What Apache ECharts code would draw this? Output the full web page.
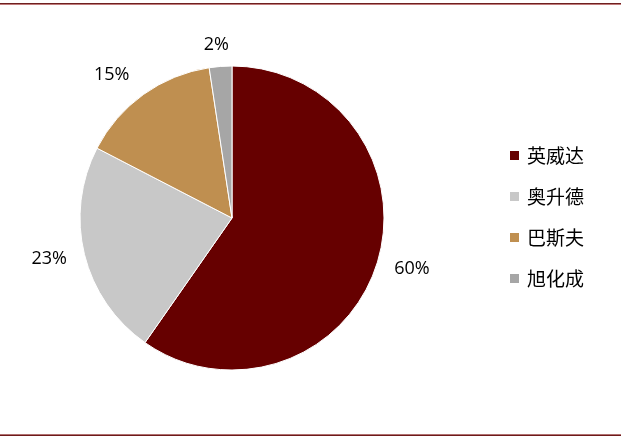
<!DOCTYPE html>
<html><head><meta charset="utf-8">
<script src="https://cdn.jsdelivr.net/npm/echarts@6/dist/echarts.min.js"></script>
<style>html,body{margin:0;padding:0;background:#fff}#c{width:621px;height:438px}</style>
</head><body><div id="c"></div>
<script>
var categories = ['英威达', '奥升德', '巴斯夫', '旭化成'];
var values = [59.7, 22.9, 15.0, 2.4];
var colors = ['#660000', '#C8C8C8', '#BF8F50', '#A6A6A6'];
// label placement tuning (style, not data)
var labelLen = [18, 18, 24, 22];
var labelLen2 = [0, 0, 0, -10];

var chart = echarts.init(document.getElementById('c'));
chart.setOption({
  animation: false,
  color: colors,
  graphic: [
    {type: 'rect', shape: {x: 0, y: 3, width: 621, height: 1}, style: {fill: '#6E2020'}},
    {type: 'rect', shape: {x: 0, y: 4, width: 621, height: 1}, style: {fill: '#C07A7A'}},
    {type: 'rect', shape: {x: 0, y: 434, width: 621, height: 1}, style: {fill: '#B07070'}},
    {type: 'rect', shape: {x: 0, y: 435, width: 621, height: 1}, style: {fill: '#6E1A1A'}}
  ],
  legend: {
    orient: 'vertical',
    left: 508,
    top: 146,
    padding: 0,
    itemWidth: 11,
    itemHeight: 11,
    itemGap: 22,
    icon: 'rect',
    textStyle: {fontFamily: 'Noto Sans CJK SC', fontSize: 19, color: '#000', lineHeight: 19, padding: [0, 0, 0, 2]},
    data: categories
  },
  series: [{
    type: 'pie',
    center: [232, 218],
    radius: 152,
    startAngle: 90,
    clockwise: true,
    itemStyle: {borderColor: '#fff', borderWidth: 1},
    label: {
      show: true,
      position: 'outside',
      distanceToLabelLine: 0,
      formatter: function (p) { return Math.round(p.value) + '%'; },
      fontFamily: 'Open Sans',
      fontSize: 18,
      color: '#000'
    },
    labelLine: {show: false, length: 16, length2: 0},
    data: categories.map(function (c, i) {
      return {name: c, value: values[i], labelLine: {show: false, length: labelLen[i], length2: labelLen2[i]}};
    })
  }]
});
</script></body></html>
